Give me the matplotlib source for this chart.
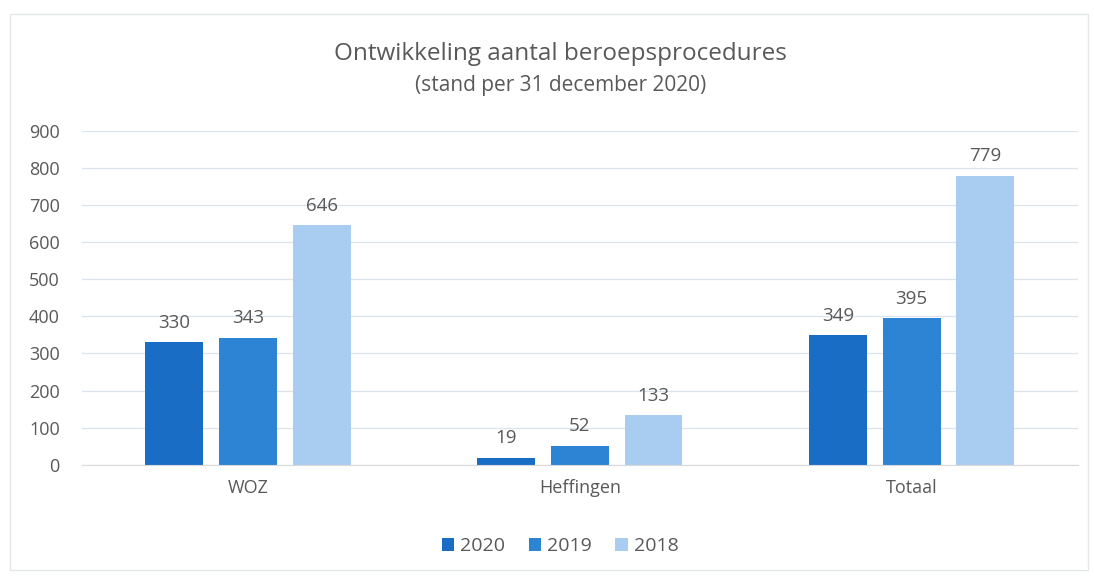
import numpy as np
import matplotlib
matplotlib.use('Agg')
import matplotlib.pyplot as plt
from matplotlib.patches import Rectangle

categories = ['WOZ', 'Heffingen', 'Totaal']
years = ['2020', '2019', '2018']
vals_2020 = [330, 19, 349]
vals_2019 = [343, 52, 395]
vals_2018 = [646, 133, 779]
yticks = [0, 100, 200, 300, 400, 500, 600, 700, 800, 900]

colors = ['#1a6dc4', '#2e84d4', '#a9cdf1']
txt = '#595959'

plt.rcParams['font.family'] = ['Open Sans', 'DejaVu Sans']

fig = plt.figure(figsize=(10.94, 5.76), dpi=100)
ax = fig.add_axes([0.075, 0.193, 0.910, 0.58])

# faint chart frame
fig.patches.append(Rectangle((10/1094, 6/576), 1078/1094, 556/576, transform=fig.transFigure,
                             fill=False, edgecolor='#e3e6ea', lw=1))

x = np.arange(len(categories))
w = 0.174
step = 0.222
for i, (vals, lbl, col) in enumerate(zip([vals_2020, vals_2019, vals_2018], years, colors)):
    pos = x + (i - 1) * step
    ax.bar(pos, vals, width=w, color=col, label=lbl)
    for p, v in zip(pos, vals):
        ax.text(p, v + 28, str(v), ha='center', va='bottom', fontsize=13.5, color=txt)

ax.set_xlim(-0.5, 2.5)
ax.set_ylim(0, 900)
ax.set_yticks(yticks)
ax.set_xticks(x)
ax.set_xticklabels(categories)
ax.tick_params(axis='both', length=0, labelsize=13, colors=txt, pad=10)
ax.tick_params(axis='y', pad=16)
ax.grid(axis='y', color='#dde3ea', lw=0.9)
ax.set_axisbelow(True)
for s in ['top', 'right', 'left']:
    ax.spines[s].set_visible(False)
ax.spines['bottom'].set_color('#d9d9d9')

fig.text(0.512, 0.907, 'Ontwikkeling aantal beroepsprocedures', ha='center', va='center',
         fontsize=17.5, color=txt)
fig.text(0.512, 0.851, '(stand per 31 december 2020)', ha='center', va='center',
         fontsize=15, color=txt)

fig.legend(loc='center', bbox_to_anchor=(0.512, 0.052), ncol=3, frameon=False,
           fontsize=14, handlelength=0.65, handleheight=0.65, handletextpad=0.3,
           columnspacing=1.2, labelcolor=txt)

fig.savefig('out.png', dpi=100)
